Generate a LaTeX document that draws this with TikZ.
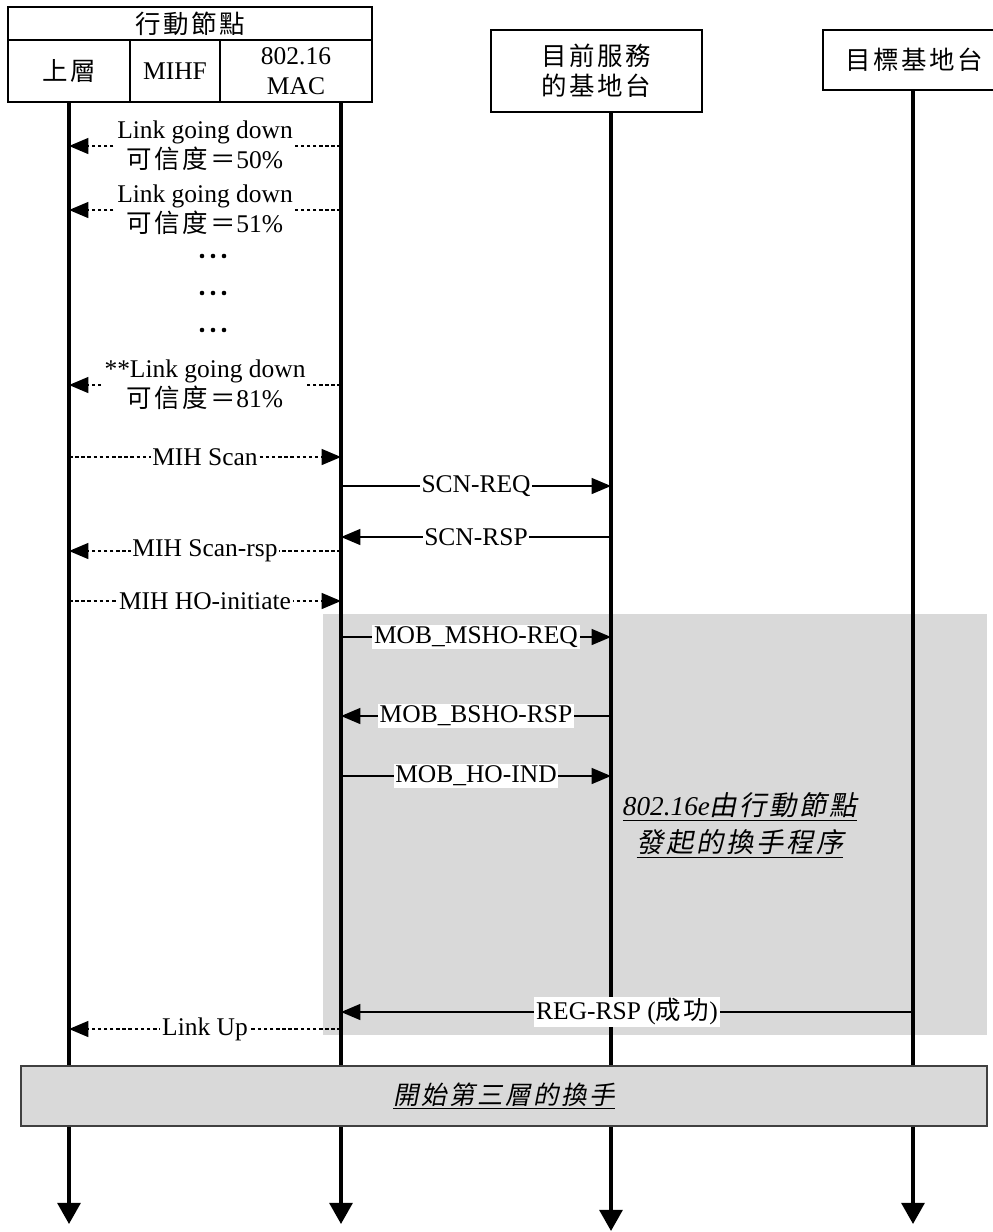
\documentclass[tikz,border=0pt]{standalone}
\usepackage{fontspec}
\setmainfont{Liberation Serif}
\newfontfamily\cjk{Noto Sans CJK TC}[LetterSpace=10]
\newfontfamily\cjkit{Noto Sans CJK TC}[FakeSlant=0.2,LetterSpace=10]
\usetikzlibrary{arrows.meta}
\definecolor{boxgray}{RGB}{217,217,217}
\definecolor{edgegray}{RGB}{64,64,64}

\begin{document}
\begin{tikzpicture}[
    x=0.02cm, y=-0.02cm,
    every node/.style={font=\fontsize{14.5}{17}\selectfont},
    cell/.style={draw, line width=0.8pt, minimum height=1.24cm, inner sep=0pt, align=center},
    life/.style={line width=2pt, -{Triangle[length=12pt,width=13pt]}},
    msg/.style={line width=1.1pt, -{Triangle[length=11pt,width=9pt]}},
    dmsg/.style={msg, dash pattern=on 2pt off 1.5pt},
    lbl/.style={fill=white, inner sep=1pt, align=center}
]
    \useasboundingbox (0,0) rectangle (993,1232);

    % handover phase
    \fill[boxgray] (323,614) rectangle (987,1035);

    % header
    \node[draw, line width=0.8pt, minimum width=7.28cm, minimum height=0.66cm, inner sep=0pt]
          (mn) at (190,23.5) {\cjk 行動節點};
    \node[cell, minimum width=2.44cm] (ul) at (69,71) {\cjk 上層};
    \node[cell, minimum width=1.8cm] (mihf) at (175,71) {MIHF};
    \node[cell, minimum width=3.04cm] (mac) at (296,71) {802.16\\MAC};
    \node[cell, minimum width=4.22cm, minimum height=1.64cm] (sbs) at (596.5,71)
          {\cjk 目前服務\\\cjk 的基地台};
    \node[cell, minimum width=3.64cm, minimum height=1.2cm] (tbs) at (914,60) {\cjk 目標基地台};

    % lifelines
    \coordinate (ulTop) at (69,102);
    \coordinate (macTop) at (341,102);
    \coordinate (sbsTop) at (611,112);
    \coordinate (tbsTop) at (913,90);
    \coordinate (ulEnd) at (69,1224);
    \coordinate (macEnd) at (341,1224);
    \coordinate (sbsEnd) at (611,1231);
    \coordinate (tbsEnd) at (913,1224);
    \draw[life] (ulTop) -- (ulEnd);
    \draw[life] (macTop) -- (macEnd);
    \draw[life] (sbsTop) -- (sbsEnd);
    \draw[life] (tbsTop) -- (tbsEnd);

    \node[draw=edgegray, line width=1.2pt, fill=boxgray, minimum width=19.32cm,
          minimum height=1.2cm] (l3) at (504,1096) {\cjkit\underline{開始第三層的換手}};

    % message rows
    \coordinate (m1) at (0,146);
    \coordinate (m2) at (0,210);
    \coordinate (m3) at (0,385);
    \coordinate (m4) at (0,457);
    \coordinate (m5) at (0,486);
    \coordinate (m6) at (0,537);
    \coordinate (m7) at (0,551);
    \coordinate (m8) at (0,601);
    \coordinate (m9) at (0,637);
    \coordinate (m10) at (0,716);
    \coordinate (m11) at (0,776);
    \coordinate (m12) at (0,1012);
    \coordinate (m13) at (0,1029);

    \draw[dmsg] (macTop |- m1) -- node[lbl] {Link going down\\{\cjk 可信度＝}50\%} (ulTop |- m1);
    \draw[dmsg] (macTop |- m2) -- node[lbl] {Link going down\\{\cjk 可信度＝}51\%} (ulTop |- m2);
    % vertical ellipsis rows
    \foreach \y in {256,293,330}
        \foreach \x in {202,213,224}
            \fill (\x,\y) circle (1.3pt);
    \draw[dmsg] (macTop |- m3) -- node[lbl] {**Link going down\\{\cjk 可信度＝}81\%} (ulTop |- m3);
    \draw[dmsg] (ulTop |- m4) -- node[lbl] {MIH Scan} (macTop |- m4);
    \draw[msg] (macTop |- m5) -- node[lbl] {SCN-REQ} (sbsTop |- m5);
    \draw[msg] (sbsTop |- m6) -- node[lbl] {SCN-RSP} (macTop |- m6);
    \draw[dmsg] (macTop |- m7) -- node[lbl] {MIH Scan-rsp} (ulTop |- m7);
    \draw[dmsg] (ulTop |- m8) -- node[lbl] {MIH HO-initiate} (macTop |- m8);
    \draw[msg] (macTop |- m9) -- node[lbl] {MOB\_MSHO-REQ} (sbsTop |- m9);
    \draw[msg] (sbsTop |- m10) -- node[lbl] {MOB\_BSHO-RSP} (macTop |- m10);
    \draw[msg] (macTop |- m11) -- node[lbl] {MOB\_HO-IND} (sbsTop |- m11);
    \draw[msg] (tbsTop |- m12) -- node[lbl] {REG-RSP ({\cjk 成功})} (macTop |- m12);
    \draw[dmsg] (macTop |- m13) -- node[lbl] {Link Up} (ulTop |- m13);

    \node[align=center, font=\fontsize{15.5}{21}\selectfont] (note) at (740,825)
          {\underline{\itshape 802.16e\cjkit 由行動節點}\\\underline{\cjkit 發起的換手程序}};
\end{tikzpicture}
\end{document}
